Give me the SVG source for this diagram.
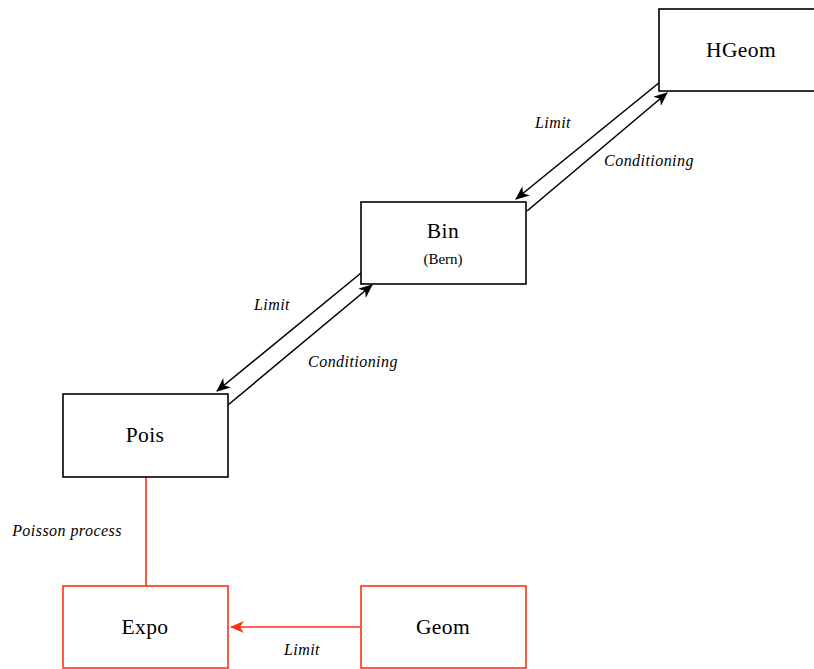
<svg xmlns="http://www.w3.org/2000/svg" width="814" height="669" viewBox="0 0 814 669">
<style>
.box{fill:#fff;stroke:#000;stroke-width:1.6}
.rbox{fill:#fff;stroke:#ff3311;stroke-width:1.6}
.lbl{font-family:"Liberation Serif",serif;font-size:21.5px;letter-spacing:0.4px;text-anchor:middle}
.sub{font-family:"Liberation Serif",serif;font-size:15px;text-anchor:middle}
.el{font-family:"Liberation Serif",serif;font-size:16px;letter-spacing:0.45px;font-style:italic;text-anchor:middle}
.e{fill:none;stroke:#000;stroke-width:1.6}
.re{fill:none;stroke:#ff3311;stroke-width:1.6}
</style>
<defs>
<marker id="ah" viewBox="0 0 14 12" refX="13" refY="6" markerWidth="14" markerHeight="12" markerUnits="userSpaceOnUse" orient="auto">
<path d="M0,0 L14,6 L0,12 L4,6 Z" fill="#000"/>
</marker>
<marker id="rah" viewBox="0 0 14 12" refX="13" refY="6" markerWidth="14" markerHeight="12" markerUnits="userSpaceOnUse" orient="auto">
<path d="M0,0 L14,6 L0,12 L4,6 Z" fill="#ff3311"/>
</marker>
</defs>
<rect width="814" height="669" fill="#fff"/>
<g id="connectors">
<line class="e" x1="660" y1="82" x2="516" y2="199" marker-end="url(#ah)"/>
<line class="e" x1="527" y1="211" x2="667" y2="93" marker-end="url(#ah)"/>
<line class="e" x1="361" y1="273" x2="217" y2="391" marker-end="url(#ah)"/>
<line class="e" x1="228" y1="405" x2="372" y2="285" marker-end="url(#ah)"/>
<line class="re" x1="146" y1="477" x2="146" y2="586"/>
<line class="re" x1="361" y1="627" x2="231" y2="627" marker-end="url(#rah)"/>
<text class="el" x="553" y="128">Limit</text>
<text class="el" x="649" y="166">Conditioning</text>
<text class="el" x="272" y="310">Limit</text>
<text class="el" x="353" y="367">Conditioning</text>
<text class="el" x="67" y="536">Poisson process</text>
<text class="el" x="302" y="655">Limit</text>
</g>
<g id="HGeom"><rect class="box" x="659" y="9" width="165" height="82"/><text class="lbl" x="741" y="57">HGeom</text></g>
<g id="Bin"><rect class="box" x="361" y="202" width="165" height="82"/><text class="lbl" x="443" y="238">Bin</text><text class="sub" x="443" y="264">(Bern)</text></g>
<g id="Pois"><rect class="box" x="63" y="394" width="165" height="83"/><text class="lbl" x="145" y="442">Pois</text></g>
<g id="Expo"><rect class="rbox" x="63" y="586" width="165" height="82"/><text class="lbl" x="145" y="634">Expo</text></g>
<g id="Geom"><rect class="rbox" x="361" y="586" width="165" height="82"/><text class="lbl" x="443" y="634">Geom</text></g>
</svg>
